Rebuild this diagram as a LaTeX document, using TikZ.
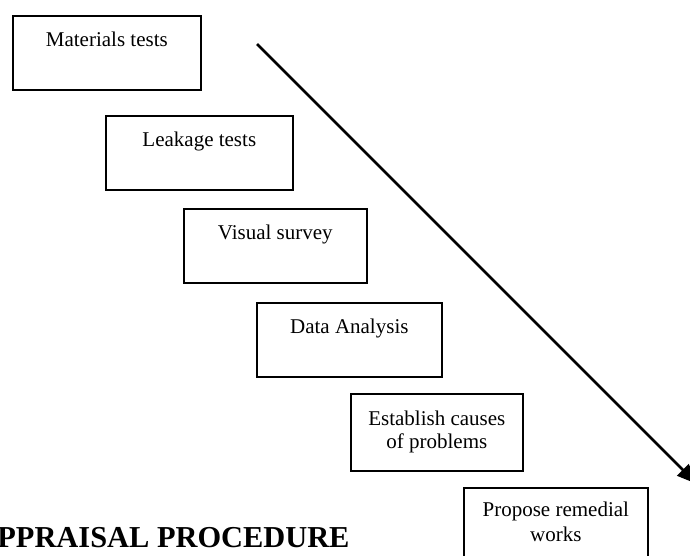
\documentclass[tikz,border=0pt]{standalone}
\usepackage{fontspec}
\setmainfont{Liberation Serif}
\usetikzlibrary{arrows.meta}

\tikzset{
  stage/.style={draw, line width=0.8pt, inner sep=0pt, align=center, anchor=north west,
    text height=15.5pt, text depth=21.5pt, font=\fontsize{10.5}{11.5}\selectfont},
  causebox/.style={text height=27.5pt, text depth=11pt},
  remedybox/.style={text height=27pt, text depth=11.5pt, font=\fontsize{10.5}{12.5}\selectfont}
}

\begin{document}
\begin{tikzpicture}[x=0.5pt,y=-0.5pt,>={Triangle[length=10pt,width=8pt]}]
  \useasboundingbox (0,0) rectangle (690,556);
  % procedure steps
  \node[stage,minimum width=94pt] (mat) at (12,15) {Materials tests};
  \node[stage,minimum width=93.5pt] (leak) at (105,115) {Leakage tests};
  \node[stage,minimum width=91.5pt] (vis) at (183,208) {Visual survey};
  \node[stage,minimum width=92.5pt] (data) at (256,302) {Data Analysis};
  \node[stage,causebox,minimum width=86pt] (cause) at (350,393) {Establish causes\\of problems};
  \node[stage,remedybox,minimum width=92pt] (remedy) at (463,487) {Propose remedial\\works};
  \node[font=\fontsize{15.2}{18}\selectfont\bfseries, anchor=base west, inner sep=0pt] (title) at (-3,547) {PPRAISAL PROCEDURE};
  % direction arrow
  \coordinate (start) at (257,44);
  \coordinate (end) at (697,484);
  \draw[->, line width=1.4pt] (start) -- (end);
\end{tikzpicture}
\end{document}
